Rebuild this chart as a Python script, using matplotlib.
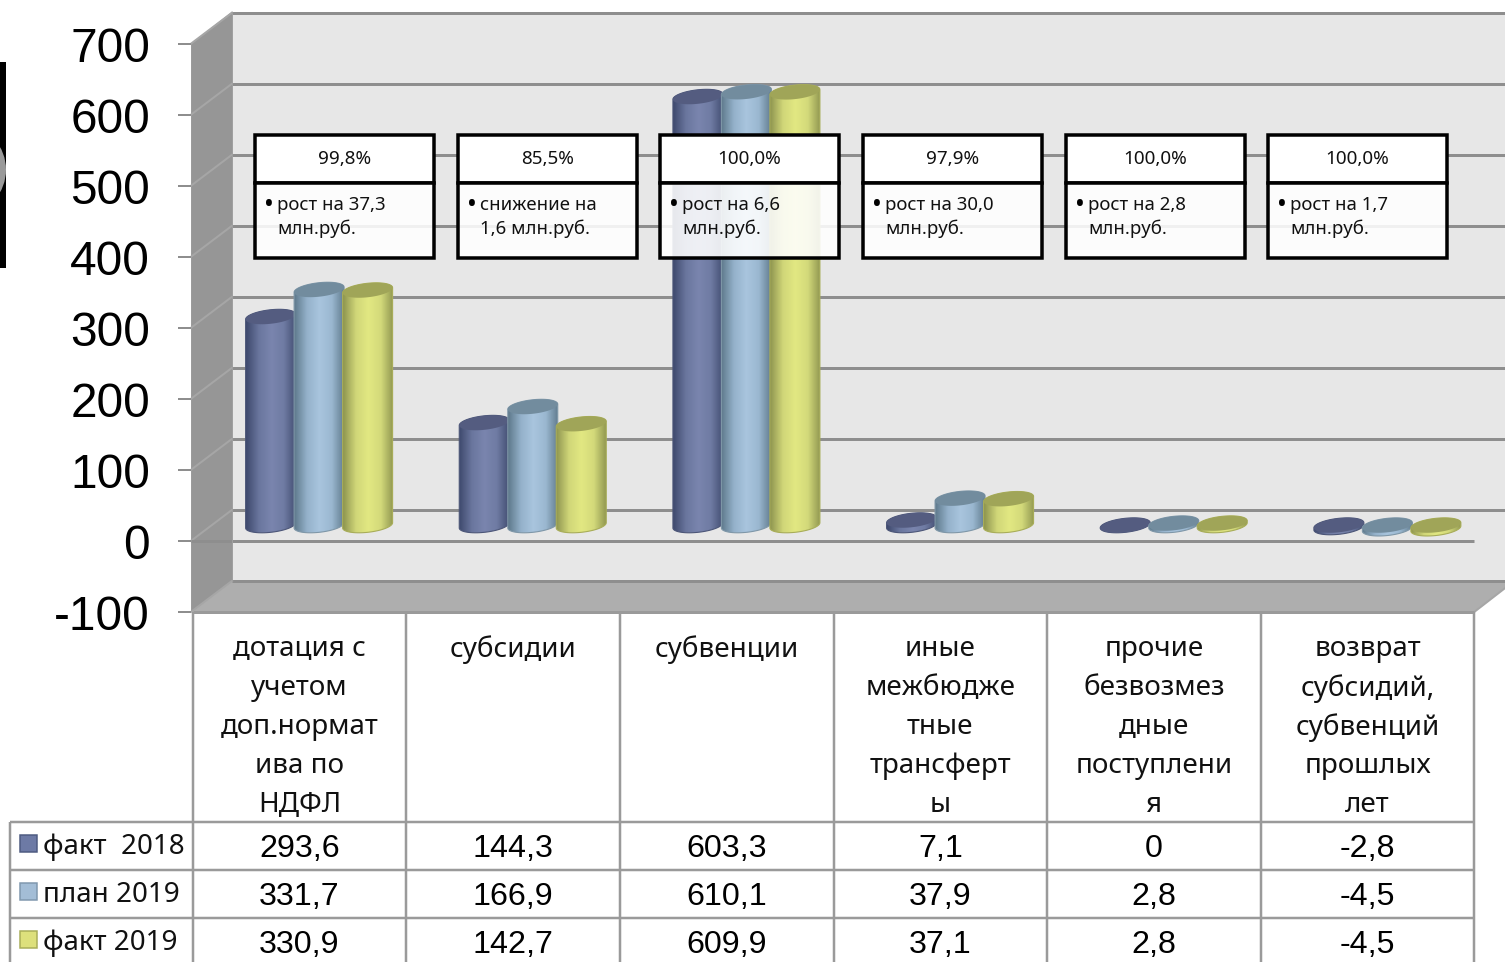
import numpy as np
import matplotlib
matplotlib.use('Agg')
import matplotlib.pyplot as plt
from matplotlib.colors import LinearSegmentedColormap
from matplotlib.patches import Polygon, Rectangle, Ellipse

categories = [
    'дотация с\nучетом\nдоп.нормат\nива по\nНДФЛ',
    'субсидии',
    'субвенции',
    'иные\nмежбюдже\nтные\nтрансферт\nы',
    'прочие\nбезвозмез\nдные\nпоступлени\nя',
    'возврат\nсубсидий,\nсубвенций\nпрошлых\nлет',
]
series_names = ['факт  2018', 'план 2019', 'факт 2019']
fact_2018 = [293.6, 144.3, 603.3, 7.1, 0, -2.8]
plan_2019 = [331.7, 166.9, 610.1, 37.9, 2.8, -4.5]
fact_2019 = [330.9, 142.7, 609.9, 37.1, 2.8, -4.5]
y_ticks = [700, 600, 500, 400, 300, 200, 100, 0, -100]
percents = ['99,8%', '85,5%', '100,0%', '97,9%', '100,0%', '100,0%']
notes = [
    'рост на 37,3\nмлн.руб.',
    'снижение на\n1,6 млн.руб.',
    'рост на 6,6\nмлн.руб.',
    'рост на 30,0\nмлн.руб.',
    'рост на 2,8\nмлн.руб.',
    'рост на 1,7\nмлн.руб.',
]

W, H = 1505, 962
TEXT_FONT = ['Noto Sans', 'DejaVu Sans']
NUM_FONT = 'Liberation Sans'
GRID = '#8e8e8e'
LINE = '#9a9a9a'

# value -> pixel on the front of the box, the back wall sits 41 px right, 31 px up
def front_y(v):
    return 541 - 0.71 * v

px = 0.72  # linewidth in points for one pixel at dpi 100

fig = plt.figure(figsize=((W + 0.4) / 100, (H + 0.4) / 100), dpi=100)
bg = fig.add_axes([0, 0, 1, 1], zorder=0)
ax = fig.add_axes([0, 0, 1, 1], zorder=1)
top = fig.add_axes([0, 0, 1, 1], zorder=2)
for a in (bg, top):
    a.set_xlim(0, W)
    a.set_ylim(H, 0)
    a.axis('off')
ax.patch.set_alpha(0)
ax.axis('off')

# bars axes: x in category units, y in chart values
col_w = 213.6
x0 = 319
y0 = 525.5
ax.set_xlim(-x0 / col_w, (W - x0) / col_w)
ax.set_ylim(-(H - y0) / 0.71, y0 / 0.71)

# walls and floor
bg.add_patch(Polygon([(232, 12), (W, 12), (W, 581), (232, 581)], fc='#e7e7e7', ec='none'))
bg.add_patch(Polygon([(191, 44), (232, 12), (232, 581), (191, 612)], fc='#969696', ec='none'))
bg.add_patch(Polygon([(191, 612), (232, 581), (W, 581), (W, 588), (1474, 612)], fc='#aeaeae', ec='none'))
for v in y_ticks:
    fy = front_y(v)
    bg.plot([232, W], [fy - 31, fy - 31], color=GRID, lw=3 * px, solid_capstyle='butt')
    bg.plot([191, 232], [fy, fy - 31], color='#a6a6a6', lw=2 * px)
    bg.plot([178, 191], [fy, fy], color=GRID, lw=2 * px, solid_capstyle='butt')
    bg.text(150, fy, str(v), ha='right', va='center_baseline', fontsize=34.4, family=NUM_FONT, color='black')
bg.plot([191, 1474], [541, 541], color=GRID, lw=3 * px, solid_capstyle='butt')
bg.plot([1474, W], [612, 588], color='#a6a6a6', lw=2 * px)
bg.plot([232, 232], [12, 581], color='#a0a0a0', lw=1 * px)

# black strip on the left edge, cut from the source slide
bg.add_patch(Rectangle((0, 62), 6, 206, fc='black', ec='none'))
clip_rect = Rectangle((0, 62), 6, 206, transform=bg.transData)
arc = Ellipse((-32, 170), 76, 84, fc='#9a9a9a', ec='none')
bg.add_patch(arc)
arc.set_clip_path(clip_rect)

# cylinders
a_x = 25 / col_w
b_y = 7.0 / 0.71
k_y = 2.6 / 0.71
t = np.linspace(0, 2 * np.pi, 80)

def ellipse_xy(cx, v):
    return np.c_[cx + a_x * np.cos(t), v + b_y * np.sin(t) + k_y * np.cos(t)]

def cylinder(cx, value, stops, top_color, rim):
    hi = max(value, 0)
    lo = min(value, 0)
    low = ellipse_xy(cx, lo)
    high = ellipse_xy(cx, hi)
    lower_half = low[(t >= np.pi)]
    upper_half = high[(t <= np.pi)]
    body = Polygon(np.r_[lower_half, upper_half], closed=True, transform=ax.transData)
    cmap = LinearSegmentedColormap.from_list('c', stops)
    grad = np.linspace(0, 1, 64).reshape(1, -1)
    im = ax.imshow(grad, cmap=cmap, aspect='auto', interpolation='bilinear',
                   extent=[cx - a_x, cx + a_x, lo - 20, hi + 20], zorder=3)
    im.set_clip_path(body)
    ax.add_patch(Polygon(np.r_[lower_half, upper_half], closed=True, fc='none', ec=rim, lw=0.8, zorder=3))
    ax.add_patch(Polygon(high, closed=True, fc=top_color, ec='none', zorder=3))

dark = (['#3f4a6e', '#6a769e', '#7a85ae', '#6f7ba3', '#414c70'], '#545c80', '#4c5678')
light = (['#5f7a8c', '#94b1ca', '#a9c5de', '#9ab7d0', '#5f7a8c'], '#728c9e', '#7f97a8')
yellow = (['#8f9650', '#d0d678', '#e2e882', '#d3d97a', '#8f9650'], '#a0a558', '#a8ad58')
series = [fact_2018, plan_2019, fact_2019]
styles = [dark, light, yellow]
offsets = [-0.227, 0, 0.227]
xlim, ylim = ax.get_xlim(), ax.get_ylim()
for values, style, off in zip(series, styles, offsets):
    for i, v in enumerate(values):
        cylinder(i + off, v, *style)
ax.set_xlim(xlim)
ax.set_ylim(ylim)

# callout boxes
box_left = [255, 458, 660, 863, 1066, 1268]
for x, pct, note in zip(box_left, percents, notes):
    top.add_patch(Rectangle((x, 135), 179, 48, fc='white', ec='black', lw=3.5 * px))
    top.add_patch(Rectangle((x, 183), 179, 75, fc=(1, 1, 1, 0.88), ec='black', lw=3.5 * px))
    top.text(x + 89, 159, pct, ha='center', va='center', fontsize=13.6, family=TEXT_FONT, color='#111111')
    top.text(x + 9, 206, '•', ha='left', va='center', fontsize=19, family=TEXT_FONT, color='black')
    for j, line in enumerate(note.split('\n')):
        top.text(x + 22, 205 + 24 * j, line, ha='left', va='center', fontsize=13.4, family=TEXT_FONT, color='#111111')

# data table under the chart
col_x = [192.5 + col_w * i for i in range(7)]
row_y = [822, 870, 918]
for cx in col_x:
    top.plot([cx, cx], [612, H], color=LINE, lw=2.5 * px, solid_capstyle='butt')
top.plot([10, 10], [822, H], color=LINE, lw=2.5 * px, solid_capstyle='butt')
top.plot([192.5, 1474], [612, 612], color=LINE, lw=3 * px, solid_capstyle='butt')
for ry in row_y:
    top.plot([10, 1474], [ry, ry], color=LINE, lw=2.5 * px, solid_capstyle='butt')

for i, label in enumerate(categories):
    cx = col_x[i] + col_w / 2
    for j, line in enumerate(label.split('\n')):
        top.text(cx, 649 + 39 * j, line, ha='center', va='center', fontsize=20, family=TEXT_FONT, color='#111111')

swatch = ['#6d7aa5', '#a3bdd6', '#dde07c']
swatch_edge = ['#4d5a80', '#7f97ad', '#a8ad58']
for ry, name, values, fc, ec in zip(row_y, series_names, series, swatch, swatch_edge):
    top.add_patch(Rectangle((20, ry + 13), 17, 17, fc=fc, ec=ec, lw=1.5 * px))
    top.text(43, ry + 25, name, ha='left', va='center', fontsize=20, family=TEXT_FONT, color='#111111')
    for i, v in enumerate(values):
        top.text(col_x[i] + col_w / 2, ry + 27, f'{v:g}'.replace('.', ','), ha='center', va='center',
                 fontsize=23.2, family=NUM_FONT, color='black')

fig.savefig('out.png', dpi=100)
